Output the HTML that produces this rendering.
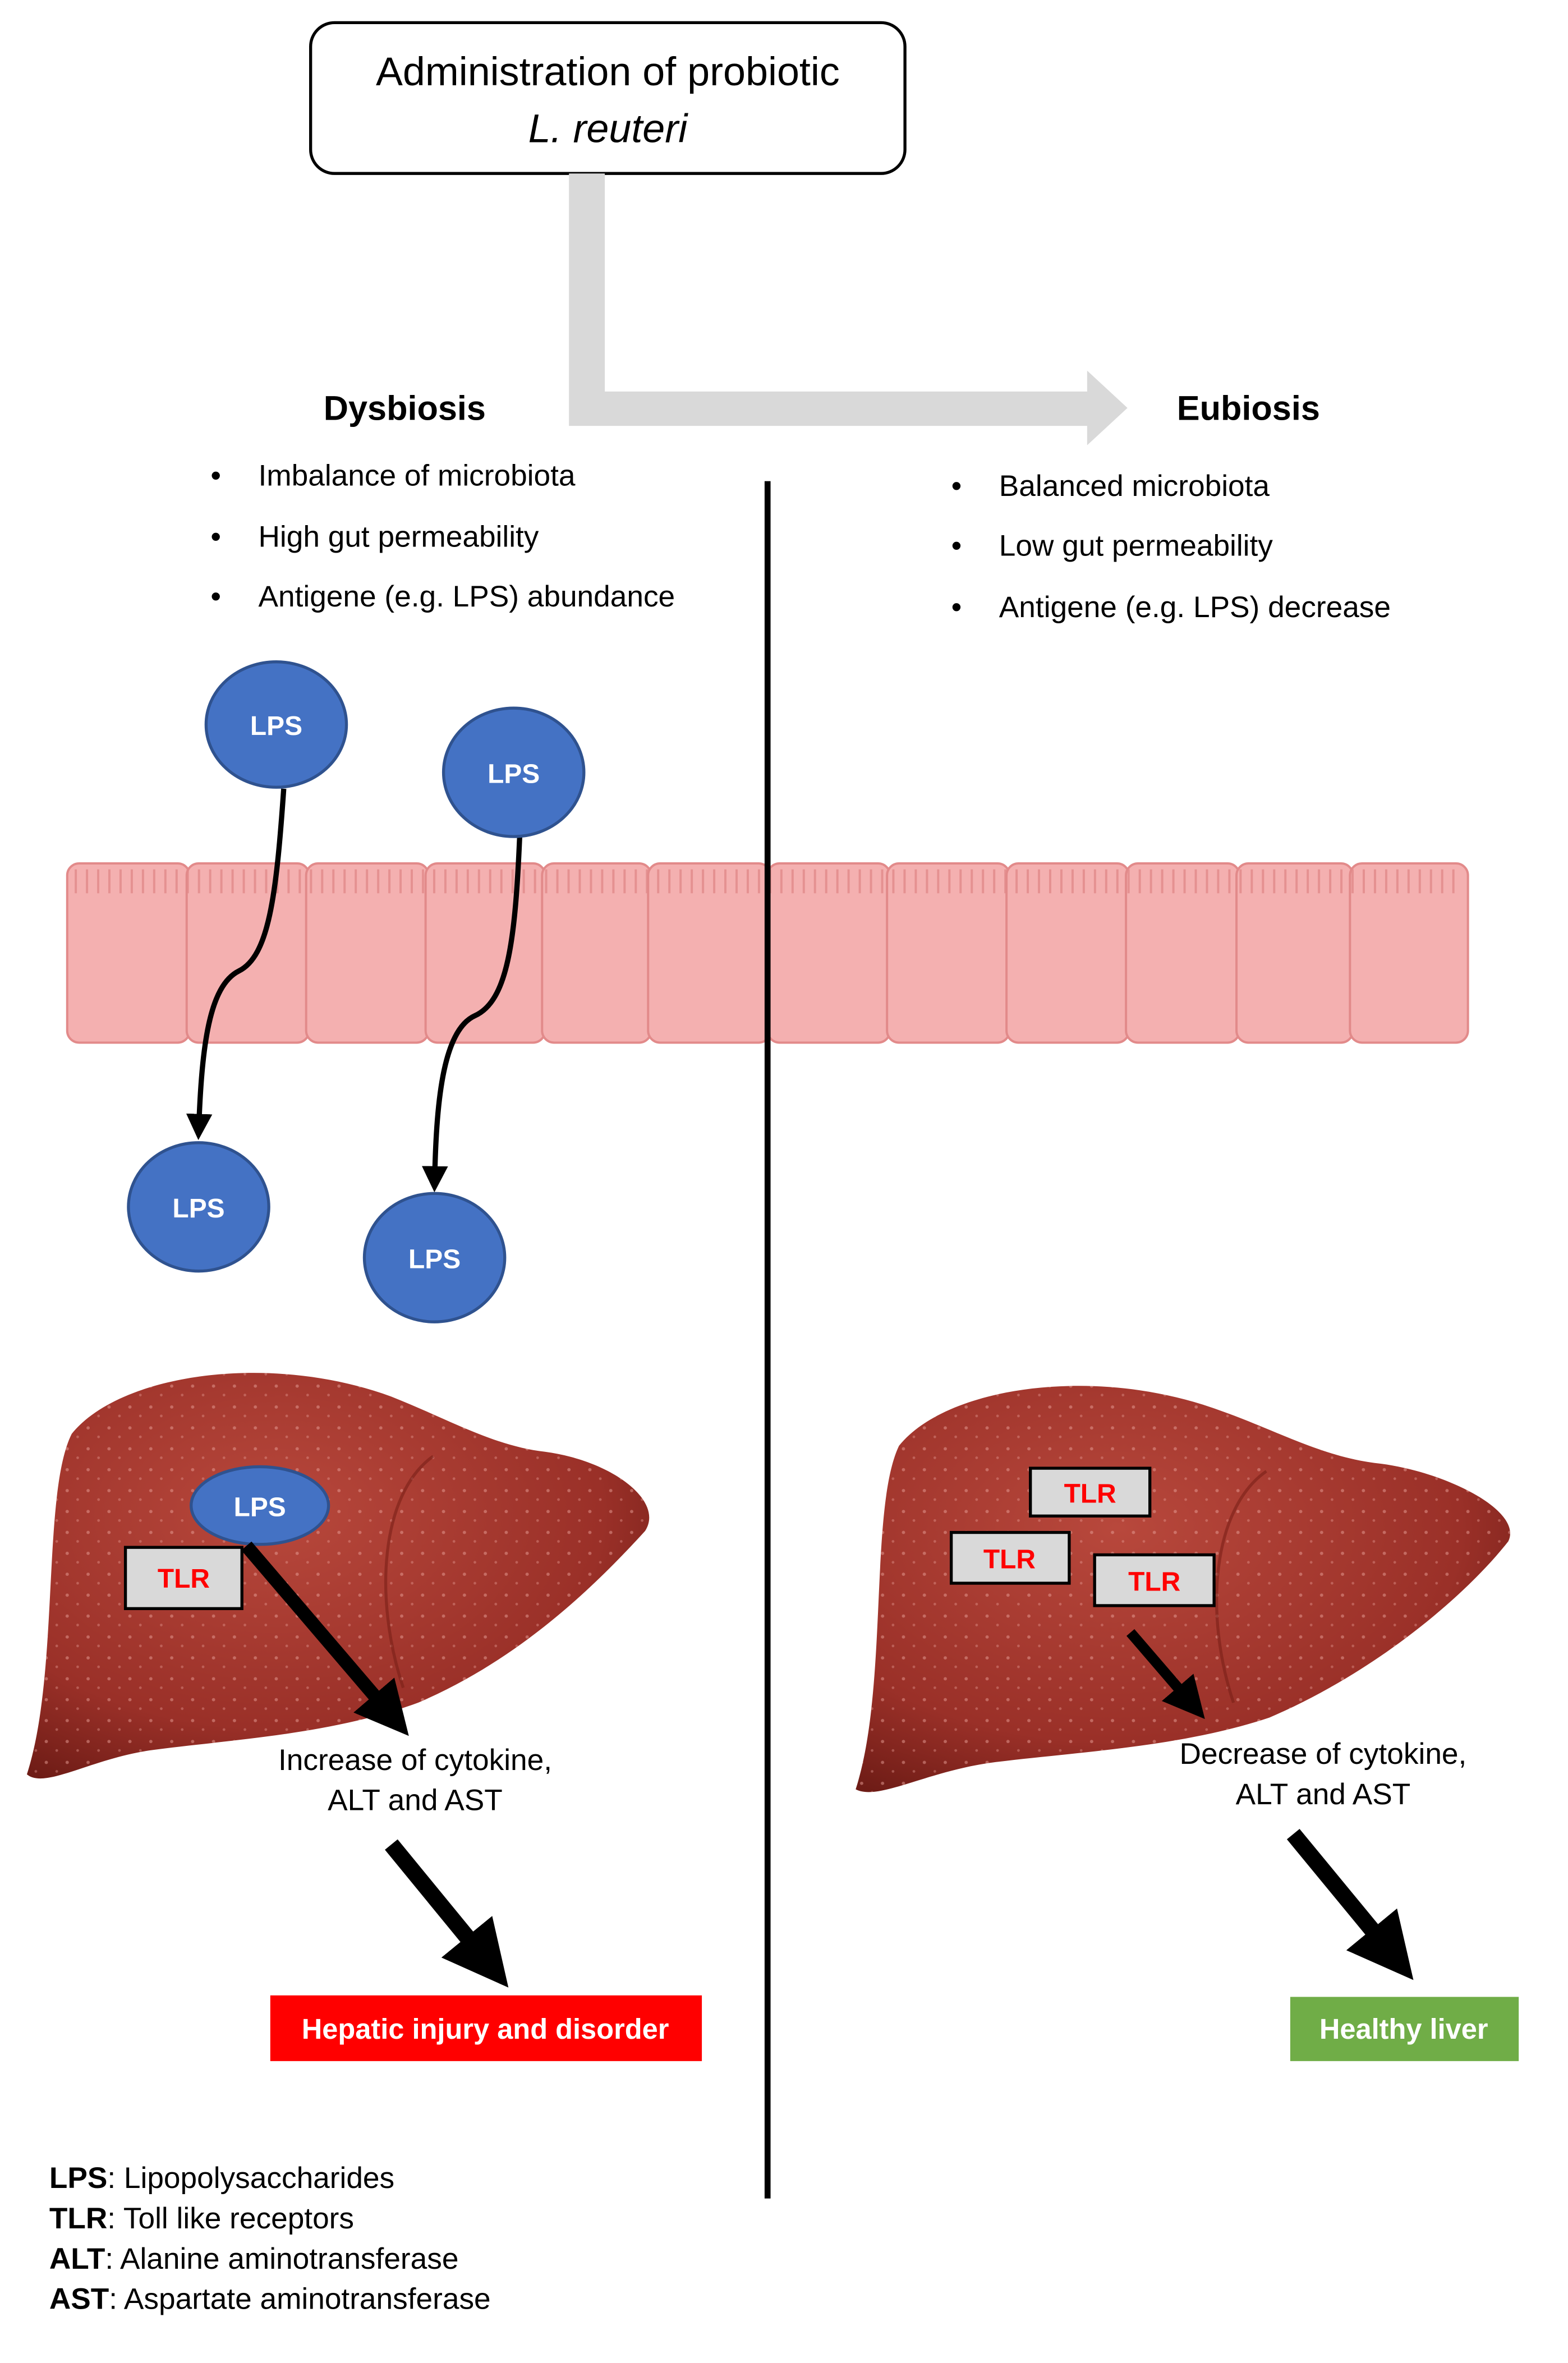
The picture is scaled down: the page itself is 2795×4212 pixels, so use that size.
<!DOCTYPE html>
<html><head><meta charset="utf-8"><style>
html,body{margin:0;padding:0;background:#fff;}
svg{display:block;}
text{font-family:"Liberation Sans",sans-serif;}
</style></head><body>
<svg width="2795" height="4212" viewBox="0 0 1050 1582" xmlns="http://www.w3.org/2000/svg">
<defs>
<radialGradient id="lv" cx="40%" cy="35%" r="75%">
<stop offset="0" stop-color="#b8483c"/><stop offset="0.7" stop-color="#9a3028"/><stop offset="1" stop-color="#6e1c16"/>
</radialGradient>
<pattern id="dots" width="14" height="14" patternUnits="userSpaceOnUse">
<circle cx="3" cy="4" r="1.1" fill="#e8a098" opacity="0.5"/><circle cx="10" cy="10" r="0.9" fill="#e8a098" opacity="0.4"/>
</pattern>
<marker id="ah" markerWidth="5" markerHeight="5" refX="3.5" refY="2.5" orient="auto" markerUnits="strokeWidth">
<path d="M0,0 L5,2.5 L0,5 z" fill="#000"/></marker>
<marker id="bh" markerWidth="4" markerHeight="4" refX="2.5" refY="2" orient="auto" markerUnits="strokeWidth">
<path d="M0,0 L4,2 L0,4 z" fill="#000"/></marker>
</defs>
<rect width="1050" height="1582" fill="#fff"/>
<rect x="208" y="15" width="398" height="101" rx="16" fill="#fff" stroke="#000" stroke-width="2"/>
<text x="407" y="57" font-size="27" text-anchor="middle">Administration of  probiotic</text>
<text x="407" y="95" font-size="27" font-style="italic" text-anchor="middle">L. reuteri</text>
<path d="M381,116 H405 V262 H728 V248 L755,273 L728,298 V285 H381 Z" fill="#d9d9d9"/>
<text x="271" y="281" font-size="23" font-weight="bold" text-anchor="middle">Dysbiosis</text>
<text x="836" y="281" font-size="23" font-weight="bold" text-anchor="middle">Eubiosis</text>
<g font-size="20">
<text x="141" y="325">•</text><text x="173" y="325">Imbalance of microbiota</text>
<text x="141" y="366">•</text><text x="173" y="366">High gut permeability</text>
<text x="141" y="406">•</text><text x="173" y="406">Antigene (e.g. LPS) abundance</text>
<text x="637" y="332">•</text><text x="669" y="332">Balanced microbiota</text>
<text x="637" y="372">•</text><text x="669" y="372">Low gut permeability</text>
<text x="637" y="413">•</text><text x="669" y="413">Antigene (e.g. LPS) decrease</text>
</g>
<g fill="#f4b0b0" stroke="#e28a8a" stroke-width="1.5">
<rect x="45" y="578" width="82" height="120" rx="8"/>
<rect x="125" y="578" width="82" height="120" rx="8"/>
<rect x="205" y="578" width="82" height="120" rx="8"/>
<rect x="285" y="578" width="80" height="120" rx="8"/>
<rect x="363" y="578" width="73" height="120" rx="8"/>
<rect x="434" y="578" width="82" height="120" rx="8"/>
<rect x="514" y="578" width="82" height="120" rx="8"/>
<rect x="594" y="578" width="82" height="120" rx="8"/>
<rect x="674" y="578" width="82" height="120" rx="8"/>
<rect x="754" y="578" width="76" height="120" rx="8"/>
<rect x="828" y="578" width="78" height="120" rx="8"/>
<rect x="904" y="578" width="79" height="120" rx="8"/>
</g>
<path d="M50,590 H980" stroke="#e28a8a" stroke-width="16" stroke-dasharray="1.5 6" opacity="0.8"/>
<line x1="514" y1="322" x2="514" y2="1472" stroke="#000" stroke-width="4"/>
<path d="M190,528 C185,600 180,640 160,650 C140,660 135,700 133,758" fill="none" stroke="#000" stroke-width="3.5" marker-end="url(#ah)"/>
<path d="M348,560 C345,630 340,670 318,680 C296,690 292,740 291,793" fill="none" stroke="#000" stroke-width="3.5" marker-end="url(#ah)"/>
<g fill="#4472c4" stroke="#2f528f" stroke-width="2">
<ellipse cx="185" cy="485" rx="47" ry="42"/>
<ellipse cx="344" cy="517" rx="47" ry="43"/>
<ellipse cx="133" cy="808" rx="47" ry="43"/>
<ellipse cx="291" cy="842" rx="47" ry="43"/>
</g>
<g fill="#fff" font-size="18" font-weight="bold" text-anchor="middle">
<text x="185" y="492">LPS</text><text x="344" y="524">LPS</text>
<text x="133" y="815">LPS</text><text x="291" y="849">LPS</text>
</g>
<path d="M18,1188 C40,1120 28,1000 48,960 C80,920 180,905 262,935 C300,950 330,968 365,972 C410,978 445,1005 432,1025 C400,1060 350,1110 280,1140 C220,1162 150,1165 100,1172 C60,1178 30,1198 18,1188 Z" fill="url(#lv)"/>
<path d="M18,1188 C40,1120 28,1000 48,960 C80,920 180,905 262,935 C300,950 330,968 365,972 C410,978 445,1005 432,1025 C400,1060 350,1110 280,1140 C220,1162 150,1165 100,1172 C60,1178 30,1198 18,1188 Z" fill="url(#dots)"/>
<path d="M290,975 C255,1000 250,1070 270,1130" fill="none" stroke="#7a2018" stroke-width="2" opacity="0.6"/>
<path d="M573,1198 C595,1130 582,1010 602,968 C634,928 734,914 816,944 C856,958 886,976 925,980 C970,986 1020,1012 1010,1032 C980,1070 920,1120 850,1150 C790,1170 720,1173 665,1180 C620,1186 588,1206 573,1198 Z" fill="url(#lv)"/>
<path d="M573,1198 C595,1130 582,1010 602,968 C634,928 734,914 816,944 C856,958 886,976 925,980 C970,986 1020,1012 1010,1032 C980,1070 920,1120 850,1150 C790,1170 720,1173 665,1180 C620,1186 588,1206 573,1198 Z" fill="url(#dots)"/>
<path d="M848,985 C812,1010 806,1080 826,1140" fill="none" stroke="#7a2018" stroke-width="2" opacity="0.6"/>
<ellipse cx="174" cy="1008" rx="46" ry="26" fill="#4472c4" stroke="#2f528f" stroke-width="2"/>
<text x="174" y="1015" fill="#fff" font-size="18" font-weight="bold" text-anchor="middle">LPS</text>
<rect x="84" y="1036" width="78" height="41" fill="#d9d9d9" stroke="#000" stroke-width="2"/>
<text x="123" y="1063" fill="#ff0000" font-size="18" font-weight="bold" text-anchor="middle">TLR</text>
<line x1="165" y1="1035" x2="265" y2="1152" stroke="#000" stroke-width="9" marker-end="url(#bh)"/>
<g font-size="20" text-anchor="middle">
<text x="278" y="1185">Increase of cytokine,</text>
<text x="278" y="1212">ALT and AST</text>
<text x="886" y="1181">Decrease of cytokine,</text>
<text x="886" y="1208">ALT and AST</text>
</g>
<line x1="262" y1="1235" x2="330" y2="1318" stroke="#000" stroke-width="11" marker-end="url(#bh)"/>
<rect x="181" y="1336" width="289" height="44" fill="#ff0000"/>
<text x="325" y="1365" fill="#fff" font-size="19" font-weight="bold" text-anchor="middle">Hepatic injury and disorder</text>
<g fill="#d9d9d9" stroke="#000" stroke-width="2">
<rect x="690" y="983" width="80" height="32"/>
<rect x="637" y="1026" width="79" height="34"/>
<rect x="733" y="1041" width="80" height="34"/>
</g>
<g fill="#ff0000" font-size="18" font-weight="bold" text-anchor="middle">
<text x="730" y="1006">TLR</text><text x="676" y="1050">TLR</text><text x="773" y="1065">TLR</text>
</g>
<line x1="757" y1="1093" x2="800" y2="1143" stroke="#000" stroke-width="7" marker-end="url(#bh)"/>
<line x1="866" y1="1228" x2="936" y2="1313" stroke="#000" stroke-width="11" marker-end="url(#bh)"/>
<rect x="864" y="1337" width="153" height="43" fill="#70ad47"/>
<text x="940" y="1365" fill="#fff" font-size="19" font-weight="bold" text-anchor="middle">Healthy liver</text>
<g font-size="20">
<text x="33" y="1465"><tspan font-weight="bold">LPS</tspan>: Lipopolysaccharides</text>
<text x="33" y="1492"><tspan font-weight="bold">TLR</tspan>: Toll like receptors</text>
<text x="33" y="1519"><tspan font-weight="bold">ALT</tspan>: Alanine aminotransferase</text>
<text x="33" y="1546"><tspan font-weight="bold">AST</tspan>: Aspartate aminotransferase</text>
</g>
</svg>
</body></html>
